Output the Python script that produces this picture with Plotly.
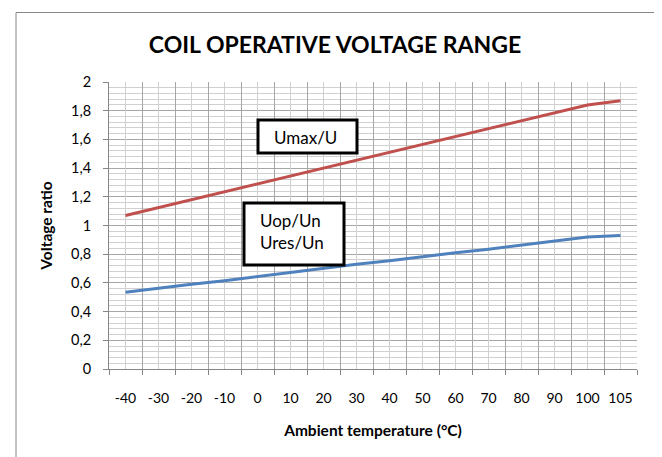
import plotly.graph_objects as go

# ---- data ----
temps = ["-40", "-30", "-20", "-10", "0", "10", "20", "30", "40", "50",
         "60", "70", "80", "90", "100", "105"]
umax_u = [1.07, 1.125, 1.18, 1.235, 1.29, 1.345, 1.40, 1.455, 1.51, 1.565,
          1.62, 1.675, 1.73, 1.785, 1.84, 1.87]
uop_un = [0.535, 0.565, 0.59, 0.615, 0.645, 0.67, 0.70, 0.73, 0.755, 0.785,
          0.81, 0.835, 0.865, 0.89, 0.92, 0.93]
title_text = "COIL OPERATIVE VOLTAGE RANGE"
x_title = "Ambient temperature (°C)"
y_title = "Voltage ratio"

W, H = 662, 457
OFF = 8  # page body margin offset
L, R, T, B = 109 - OFF, 637 - OFF, 82 - OFF, 369 - OFF


def px(x):
    return (x - OFF - L) / (R - L)


def py(y):
    return (B - (y - OFF)) / (B - T)


FONT = "Lato, 'Open Sans', sans-serif"
MAJOR = "#a6a6a6"
MINOR = "#d0d0d0"
AXIS = "#868686"

fig = go.Figure()
fig.add_trace(go.Scatter(x=temps, y=umax_u, mode="lines", name="Umax/U",
                         line=dict(color="#C0504D", width=3), showlegend=False))
fig.add_trace(go.Scatter(x=temps, y=uop_un, mode="lines", name="Uop/Un",
                         line=dict(color="#4F81BD", width=3), showlegend=False))

fig.update_layout(
    width=W, height=H,
    margin=dict(l=L, r=W - R, t=T, b=H - B, pad=0, autoexpand=False),
    paper_bgcolor="white", plot_bgcolor="white",
    separators=", ",
    font=dict(family=FONT, size=14, color="#000000"),
    title=dict(text=title_text, x=(335 - OFF) / W, y=1 - (45 - OFF) / H,
               xref="container", yref="container", xanchor="center",
               yanchor="middle",
               font=dict(family=FONT, size=23, color="#000000", weight="bold")),
    xaxis=dict(type="category", tickson="boundaries", showgrid=True,
               gridcolor=MAJOR, gridwidth=1, ticks="outside", ticklen=5,
               tickcolor=AXIS, showline=True, linecolor=AXIS, linewidth=1,
               ticklabelstandoff=16, tickangle=0,
               range=[-0.5, len(temps) - 0.5],
               tickfont=dict(size=14),
               title=dict(text=x_title, standoff=20,
                          font=dict(size=15.5, weight="bold"))),
    xaxis2=dict(overlaying="x", range=[-0.5, len(temps) - 0.5],
                tickvals=list(range(len(temps))), showgrid=True,
                gridcolor=MINOR, showticklabels=False, ticks="",
                showline=False, zeroline=False),
    yaxis=dict(range=[0, 2], tick0=0, dtick=0.2, showgrid=True,
               gridcolor=MAJOR, ticks="outside", ticklen=5, tickcolor=AXIS,
               showline=True, linecolor=AXIS, linewidth=1, zeroline=False,
               ticklabelstandoff=9, tickfont=dict(size=14.5),
               minor=dict(dtick=0.04, showgrid=True, gridcolor=MINOR, ticks=""),
               title=dict(text=y_title, standoff=14,
                          font=dict(size=15.5, weight="bold"))),
)

# invisible trace to activate xaxis2
fig.add_trace(go.Scatter(x=[0], y=[0], xaxis="x2", yaxis="y", mode="markers",
                         marker=dict(opacity=0), hoverinfo="skip",
                         showlegend=False))

# outer chart frame
fig.add_shape(type="rect", xref="paper", yref="paper",
              x0=px(16), x1=px(655), y0=py(470), y1=py(12.5),
              line=dict(color=AXIS, width=1), fillcolor="rgba(0,0,0,0)",
              layer="below")

# text boxes
fig.add_shape(type="rect", xref="paper", yref="paper",
              x0=px(258), x1=px(357), y0=py(153), y1=py(120),
              line=dict(color="black", width=3), fillcolor="white")
fig.add_shape(type="rect", xref="paper", yref="paper",
              x0=px(244), x1=px(344), y0=py(265), y1=py(203),
              line=dict(color="black", width=3), fillcolor="white")
fig.add_annotation(xref="paper", yref="paper", x=px(272), y=py(137),
                   xanchor="left", yanchor="middle", showarrow=False,
                   text="Umax/U", font=dict(family=FONT, size=17, color="black"))
fig.add_annotation(xref="paper", yref="paper", x=px(258), y=py(232),
                   xanchor="left", yanchor="middle", showarrow=False,
                   align="left", text="Uop/Un<br>Ures/Un",
                   font=dict(family=FONT, size=17, color="black"))

fig.write_html("out.html")
